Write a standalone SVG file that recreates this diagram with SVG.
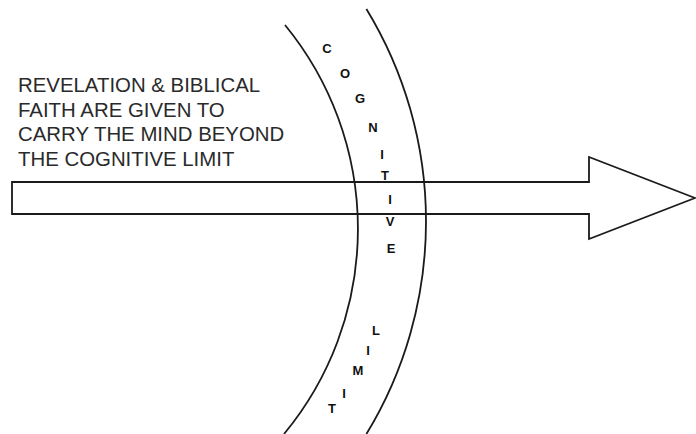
<svg xmlns="http://www.w3.org/2000/svg" width="696" height="434" viewBox="0 0 696 434">
<style>
.line{fill:none;stroke:#1a1a1a;stroke-width:1.8}
.lt{font-family:"Liberation Sans",Arial,sans-serif;font-weight:bold;font-size:13px;fill:#111;text-anchor:middle}
.mt{font-family:"Liberation Sans",Arial,sans-serif;font-size:20.4px;fill:#2a2a2a}
</style>
<rect width="696" height="434" fill="#fff"/>
<g id="label">
<text class="mt" x="18" y="92">REVELATION &amp; BIBLICAL</text>
<text class="mt" x="18" y="116.5">FAITH ARE GIVEN TO</text>
<text class="mt" x="18" y="141">CARRY THE MIND BEYOND</text>
<text class="mt" x="18" y="165.5">THE COGNITIVE LIMIT</text>
</g>
<g id="arrow">
<polygon class="line" style="fill:#fff" points="12,182 589,182 589,157 695,198 589,239 589,214 12,214"/>
</g>
<g id="connectors">
<path class="line" d="M285,25 A321.5,321.5 0 0 1 284,434"/>
<path class="line" d="M366.4,9 A408.6,408.6 0 0 1 366.4,434"/>
</g>
<g id="cognitive-limit">
<text class="lt" x="327" y="52.5">C</text>
<text class="lt" x="345" y="77.5">O</text>
<text class="lt" x="360" y="102.5">G</text>
<text class="lt" x="373" y="132">N</text>
<text class="lt" x="382" y="159">I</text>
<text class="lt" x="385" y="180">T</text>
<text class="lt" x="390" y="204">I</text>
<text class="lt" x="390" y="226">V</text>
<text class="lt" x="391" y="252.5">E</text>
<text class="lt" x="376" y="334.5">L</text>
<text class="lt" x="368" y="354.5">I</text>
<text class="lt" x="358" y="374.5">M</text>
<text class="lt" x="344" y="397.5">I</text>
<text class="lt" x="332" y="412.5">T</text>
</g>
</svg>
